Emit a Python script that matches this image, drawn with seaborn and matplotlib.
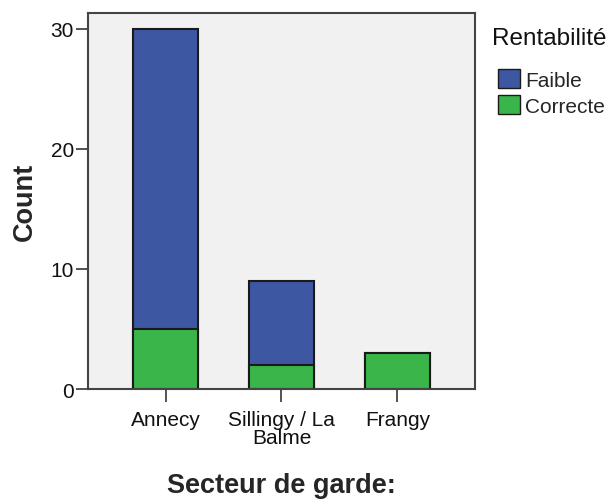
import matplotlib.pyplot as plt
import numpy as np
import pandas as pd
import seaborn as sns
from matplotlib.patches import Patch

# data
secteurs = ["Annecy", "Sillingy / La\nBalme", "Frangy"]
faible = [25, 7, 0]
correcte = [5, 2, 3]
legend_title = "Rentabilité"
legend_labels = ["Faible", "Correcte"]

blue = "#3D57A3"
green = "#3AB54A"
edge = "#1a1a1a"

sns.set_style("ticks")
plt.rcParams["font.family"] = ["Liberation Sans", "DejaVu Sans"]

df = pd.DataFrame({"secteur": secteurs, "faible": faible, "correcte": correcte})
df["total"] = df["faible"] + df["correcte"]

fig = plt.figure(figsize=(6.14, 5.02), dpi=100)
ax = fig.add_axes([0.1433, 0.2231, 0.6303, 0.7490])
ax.set_facecolor("#F0F1F0")

# blue = full stack height, green drawn over it for the lower segment
sns.barplot(data=df, x="secteur", y="total", color=blue, width=0.56,
            edgecolor=edge, linewidth=1.5, saturation=1, ax=ax)
sns.barplot(data=df, x="secteur", y="correcte", color=green, width=0.56,
            edgecolor=edge, linewidth=1.5, saturation=1, ax=ax)

ax.set_xlim(-0.67, 2.67)
ax.set_ylim(0, 31.3)
ax.set_yticks([0, 10, 20, 30])
ax.tick_params(axis="both", labelsize=15, color="#444444", length=9, width=1.3,
               labelcolor="#111111")
ax.tick_params(axis="y", pad=1)
ax.tick_params(axis="x", pad=6)
for lbl in ax.get_xticklabels():
    lbl.set_linespacing(0.95)
for s in ax.spines.values():
    s.set_visible(True)
    s.set_color("#444444")
    s.set_linewidth(1.5)

ax.set_xlabel("Secteur de garde:", fontsize=19.5, fontweight="bold")
ax.set_ylabel("Count", fontsize=19.5, fontweight="bold")
ax.xaxis.set_label_coords(0.5, -0.222)
ax.yaxis.set_label_coords(-0.13, 0.5)

handles = [Patch(facecolor=blue, edgecolor=edge),
           Patch(facecolor=green, edgecolor=edge)]
fig.text(0.802, 0.9104, legend_title, fontsize=17.5, color="#111111",
         ha="left", va="baseline")
fig.legend(handles, legend_labels, loc="upper left",
           bbox_to_anchor=(0.811, 0.8606), frameon=False, fontsize=15,
           borderpad=0, borderaxespad=0, handlelength=1.05, handleheight=1.05,
           handletextpad=0.25, labelspacing=0.25)

fig.savefig("out.png", dpi=100)
